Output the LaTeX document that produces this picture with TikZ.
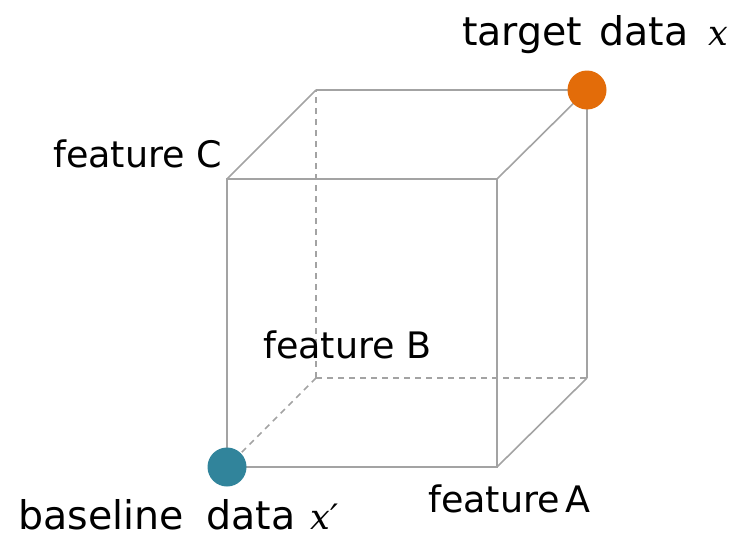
\documentclass[tikz,border=0pt]{standalone}
\usepackage{fontspec}
\setmainfont{DejaVu Sans}
\newfontfamily\varfont{DejaVu Serif}
\newcommand{\var}[1]{{\varfont\fontsize{35}{40}\selectfont\itshape #1}}
\begin{document}
\begin{tikzpicture}[x=1pt,y=-1pt,
  edge/.style={draw=black!36,line width=1.6pt},
  hidden/.style={draw=black!36,line width=1.6pt,dash pattern=on 6pt off 5pt},
  dot/.style={circle,inner sep=0pt,minimum size=39pt},
  lbl/.style={anchor=base west,inner sep=0pt,text depth=0pt,font=\fontsize{39.5}{45}\selectfont},
  flbl/.style={anchor=base west,inner sep=0pt,font=\fontsize{36.5}{42}\selectfont}]
\useasboundingbox (0,0) rectangle (741,535);
% front face corners
\coordinate (fbl) at (227,467);
\coordinate (fbr) at (497,467);
\coordinate (ftl) at (227,179);
\coordinate (ftr) at (497,179);
% back face corners
\coordinate (bbl) at (316,378);
\coordinate (bbr) at (587,378);
\coordinate (btl) at (316,90);
\coordinate (btr) at (587,90);
% hidden edges
\draw[hidden] (bbl) -- (btl);
\draw[hidden] (bbl) -- (bbr);
\draw[hidden] (bbl) -- (fbl);
% visible edges
\draw[edge] (fbl) rectangle (ftr);
\draw[edge] (btl) -- (btr) -- (bbr);
\draw[edge] (ftl) -- (btl);
\draw[edge] (ftr) -- (btr);
\draw[edge] (fbr) -- (bbr);
% end points
\node[dot,fill={rgb,255:red,49;green,132;blue,155}] (base) at (fbl) {};
\node[dot,fill={rgb,255:red,227;green,108;blue,9}] (target) at (btr) {};
% labels
\node[lbl] (tlab) at (462,46) {target\hspace{17pt}data\hspace{20pt}\var{x}};
\node[lbl] (blab) at (18,529) {baseline\hspace{23pt}data\hspace{15pt}\var{x′}};
\node[flbl] (fc) at (53,167) {feature C};
\node[flbl] (fb) at (263,358) {feature B};
\node[flbl] (fa) at (428,512) {feature\hspace{6pt}A};
\end{tikzpicture}
\end{document}
